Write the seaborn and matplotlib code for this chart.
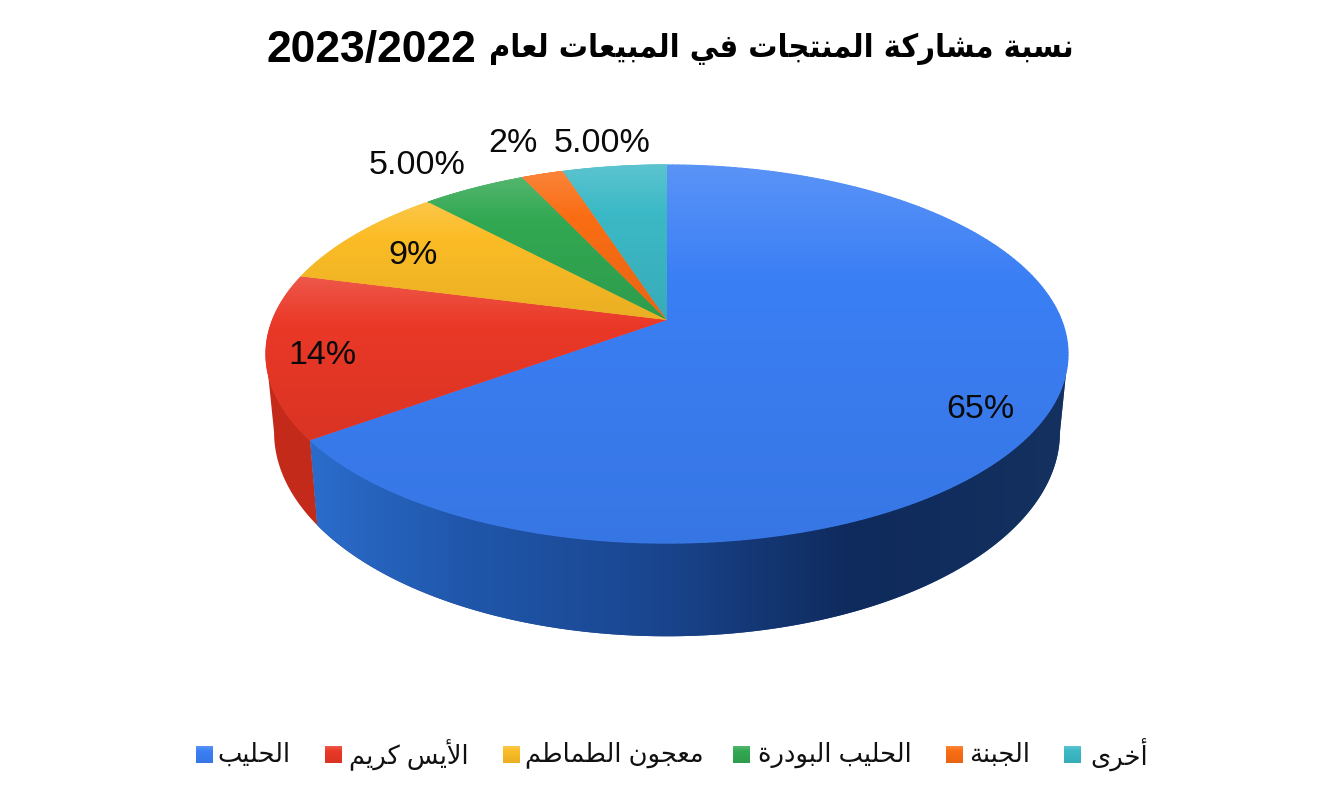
import numpy as np
import matplotlib
matplotlib.use("Agg")
import matplotlib.pyplot as plt
import matplotlib.transforms as mtransforms
from matplotlib.collections import LineCollection
from matplotlib.colors import to_rgb, LinearSegmentedColormap
import seaborn as sns

# ---------- data ----------
title_words = "نسبة مشاركة المنتجات في المبيعات لعام"
title_years = "2023/2022"
categories = ["الحليب", "الأيس كريم", "معجون الطماطم", "الحليب البودرة", "الجبنة", "أخرى"]
shares = [65, 14, 9, 5, 2, 5]
share_labels = ["65%", "14%", "9%", "5.00%", "2%", "5.00%"]
palette = ["#3b7ff5", "#ea3827", "#fbbc26", "#32a852", "#fa6d14", "#3cb9c6"]

# ---------- layout / style ----------
label_xy = [(980, 407), (322, 352), (413, 253), (417, 163), (513, 141), (602, 141)]
legend_square_x = [196, 325, 503, 733, 946, 1064]
legend_text_center = [254, 409, 614, 834.5, 1000, 1119.5]
APEX = (667.0, 320.0)
PK, PA, PC = 0.18, 182.9, 394.4          # perspective of the pie's top face
SIDE_SCALE_X, SIDE_SCALE_Y, SIDE_DROP = 0.98, 1.079, 75.6
LATIN_AR = ["Liberation Sans", "DejaVu Sans"]

sns.set_theme(style="white")
plt.rcParams["font.family"] = LATIN_AR

# ---------- Arabic shaping (matplotlib does not shape or reorder) ----------
FORMS = {"ا": (0xFE8D, 2), "أ": (0xFE83, 2), "ب": (0xFE8F, 4), "ة": (0xFE93, 2), "ت": (0xFE95, 4),
         "ج": (0xFE9D, 4), "ح": (0xFEA1, 4), "خ": (0xFEA5, 4), "د": (0xFEA9, 2), "ر": (0xFEAD, 2),
         "س": (0xFEB1, 4), "ش": (0xFEB5, 4), "ط": (0xFEC1, 4), "ع": (0xFEC9, 4), "ف": (0xFED1, 4),
         "ك": (0xFED9, 4), "ل": (0xFEDD, 4), "م": (0xFEE1, 4), "ن": (0xFEE5, 4), "و": (0xFEED, 2),
         "ى": (0xFEEF, 2), "ي": (0xFEF1, 4)}
LIGATURES = {"لا": (0xFEFB, 0xFEFC), "لأ": (0xFEF7, 0xFEF8)}


def shape_word(word):
    out, i, joined = [], 0, False
    while i < len(word):
        pair = word[i:i + 2]
        if pair in LIGATURES:
            out.append(chr(LIGATURES[pair][1 if joined else 0]))
            i += 2
            joined = False
            continue
        ch = word[i]
        base, n = FORMS[ch]
        nxt = i + 1 < len(word)
        if n == 4:
            form = (3 if nxt else 1) if joined else (2 if nxt else 0)
        else:
            form = 1 if joined else 0
        out.append(chr(base + form))
        joined = n == 4 and nxt
        i += 1
    return "".join(reversed(out))


def visual(text):
    words = text.split(" ")
    return " ".join(shape_word(w) if w[0] in FORMS else w for w in reversed(words))


# ---------- perspective ----------
class Perspective(mtransforms.Transform):
    input_dims = 2
    output_dims = 2

    def transform_non_affine(self, values):
        values = np.asarray(values, float)
        d = 1 + PK * values[:, 1]
        return np.column_stack([APEX[0] + PC * values[:, 0] / d, APEX[1] - PA * values[:, 1] / d])


persp = Perspective()


def clock_pts(deg):
    a = np.radians(deg)
    return persp.transform_non_affine(np.column_stack([np.sin(a), np.cos(a)]))


def lower_pts(top):
    return np.column_stack([APEX[0] + (top[:, 0] - APEX[0]) * SIDE_SCALE_X,
                            APEX[1] + (top[:, 1] - APEX[1]) * SIDE_SCALE_Y + SIDE_DROP])


def mix(c, other, t):
    c, other = np.array(to_rgb(c)), np.array(to_rgb(other))
    return tuple(c * (1 - t) + other * t)


def grad_cmap(base):
    return LinearSegmentedColormap.from_list(
        "g", [(0, mix(base, "#ffffff", 0.16)), (0.3, to_rgb(base)), (1, mix(base, "#000000", 0.07))])


def side_poly(th0, th1):
    th = np.linspace(th0, th1, 300)
    top = clock_pts(th)
    low = lower_pts(top)[::-1]
    return np.vstack([top, low])


# ---------- figure ----------
fig = plt.figure(figsize=(13.38, 8), dpi=100, facecolor="white")
ax = fig.add_axes([0, 0, 1, 1])
wedges, _ = ax.pie(shares, colors=palette, startangle=90, counterclock=False, radius=1)
ax.set_aspect("auto")

edges = np.cumsum([0] + shares) * 3.6
sil = np.degrees(np.arcsin(PK))          # where the rim is widest on screen

# side wall, from the slice edges
side_blue = LinearSegmentedColormap.from_list(
    "side", [(0, "#2b6ccb"), (0.2, "#2057ab"), (0.45, "#1a4690"), (0.72, "#0f2a5c"), (1, "#14315f")])
poly = side_poly(edges[1], 270 - sil)
ax.fill(poly[:, 0], poly[:, 1], color="#c42a1a", lw=0, zorder=1)
poly = side_poly(90 + sil, edges[1])
blue_side = ax.fill(poly[:, 0], poly[:, 1], color="#1a4690", lw=0, zorder=1.1)[0]
im = ax.imshow(np.linspace(0, 1, 512)[None, :], cmap=side_blue, vmin=0, vmax=1,
               extent=(310, 1068, 640, 300), aspect="auto", zorder=1.2, interpolation="bilinear")
im.set_clip_path(blue_side)

# top face: the real pie wedges, under the projection, with a vertical sheen
for i, w in enumerate(wedges):
    w.set_transform(persp + ax.transData)
    w.set_zorder(2)
    w.set_edgecolor("none")
    arc = clock_pts(np.linspace(edges[i], edges[i + 1], 240))
    y0, y1 = min(arc[:, 1].min(), APEX[1]), max(arc[:, 1].max(), APEX[1])
    x0, x1 = min(arc[:, 0].min(), APEX[0]), max(arc[:, 0].max(), APEX[0])
    cm = grad_cmap(palette[i])
    im = ax.imshow(np.linspace(0, 1, 256)[:, None], cmap=cm, vmin=0, vmax=1,
                   extent=(x0, x1, y1, y0), aspect="auto", zorder=3, interpolation="bilinear")
    im.set_clip_path(w)
    segs = np.stack([arc[:-1], arc[1:]], axis=1)
    rim = LineCollection(segs, colors=cm((segs[:, :, 1].mean(axis=1) - y0) / (y1 - y0)),
                         linewidths=0.9, zorder=3.2, capstyle="round")
    ax.add_collection(rim, autolim=False)

# slice labels
for txt, (x, y) in zip(share_labels, label_xy):
    ax.text(x, y + 3, txt, ha="center", va="center", fontsize=24.5, color="#0a0a0a", zorder=5,
            family=LATIN_AR)

# title
ax.text(476, 50.5, title_years, ha="right", va="center", fontsize=32, fontweight="bold",
        color="black", family=["Liberation Sans"])
ax.text(1074, 49, visual(title_words), ha="right", va="center", fontsize=23.2, fontweight="bold",
        fontstretch="condensed", color="black", family=["DejaVu Sans"])

# legend
for i, cat in enumerate(categories):
    sx = legend_square_x[i]
    ax.imshow(np.linspace(0, 1, 64)[:, None], cmap=grad_cmap(palette[i]), vmin=0, vmax=1,
              extent=(sx, sx + 17, 763, 746), aspect="auto", zorder=4.5)
    ax.text(legend_text_center[i], 755, visual(cat), ha="center", va="center",
            fontsize=18.5, color="#111111", family=LATIN_AR)

ax.set_xlim(0, 1338)
ax.set_ylim(800, 0)
ax.axis("off")
fig.savefig("out.png", dpi=100, facecolor="white")
